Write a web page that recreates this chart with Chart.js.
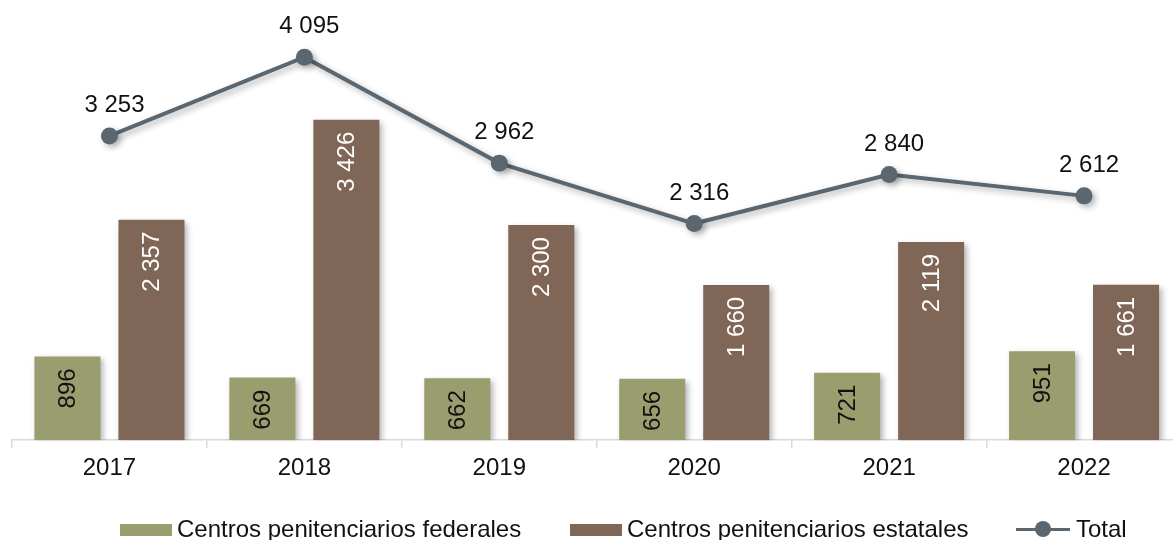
<!DOCTYPE html>
<html>
<head>
<meta charset="utf-8">
<script src="https://cdn.jsdelivr.net/npm/chart.js@4.4.1/dist/chart.umd.min.js"></script>
<style>
  html, body { margin: 0; padding: 0; background: #fff; overflow: hidden; }
  #wrap { position: relative; width: 1173px; height: 540px; overflow: hidden; }
  #box { position: absolute; left: 0; top: 0; width: 1190px; height: 540px; }
  .lg { position: absolute; font: 24px 'Liberation Sans', Arial, sans-serif; color: #111; line-height: 1; white-space: nowrap; }
  .sw { position: absolute; height: 12px; width: 52px; }
</style>
</head>
<body>
<div id="wrap">
  <div id="box"><canvas id="chart-centros"></canvas></div>
  <div class="sw" style="left:120px; top:524px; background:#9a9d6e;"></div>
  <div class="lg" style="left:177px; top:517px;">Centros penitenciarios federales</div>
  <div class="sw" style="left:570px; top:524px; background:#806656;"></div>
  <div class="lg" style="left:627px; top:517px;">Centros penitenciarios estatales</div>
  <div style="position:absolute; left:1016px; top:528px; width:54px; height:3px; background:#5a6770;"></div>
  <div style="position:absolute; left:1035px; top:521px; width:16px; height:16px; border-radius:50%; background:#5a6770;"></div>
  <div class="lg" style="left:1076px; top:517px;">Total</div>
</div>
<script>
'use strict';

const years = ['2017', '2018', '2019', '2020', '2021', '2022'];
const federales = [896, 669, 662, 656, 721, 951];
const estatales = [2357, 3426, 2300, 1660, 2119, 1661];
const totales = [3253, 4095, 2962, 2316, 2840, 2612];

const colors = {
    green: '#9a9d6e',
    brown: '#806656',
    line: '#5a6770',
    axis: '#d9d9d9',
    text: '#111111'
};
const FONT = "'Liberation Sans', Arial, sans-serif";

const fmt = (v) => String(v).replace(/\B(?=(\d{3})+(?!\d))/g, ' ');

// sombra suave como en el original
const shadowPlugin = {
    id: 'shadow',
    beforeDatasetsDraw(chart) {
        const ctx = chart.ctx;
        ctx.save();
        ctx.shadowColor = 'rgba(0, 0, 0, 0.3)';
        ctx.shadowBlur = 6;
        ctx.shadowOffsetX = 3;
        ctx.shadowOffsetY = 3;
    },
    afterDatasetsDraw(chart) {
        chart.ctx.restore();
    }
};

const labelsPlugin = {
    id: 'valueLabels',
    afterDatasetsDraw(chart) {
        const ctx = chart.ctx;
        ctx.save();
        ctx.shadowColor = 'transparent';
        ctx.font = '24px ' + FONT;
        chart.data.datasets.forEach((ds, i) => {
            const meta = chart.getDatasetMeta(i);
            meta.data.forEach((el, j) => {
                const txt = fmt(ds.data[j]);
                if (ds.type === 'line') {
                    ctx.fillStyle = colors.text;
                    ctx.textAlign = 'center';
                    ctx.textBaseline = 'alphabetic';
                    ctx.fillText(txt, el.x + 5, el.y - 24);
                } else {
                    ctx.save();
                    ctx.translate(el.x + 1, el.y + 12);
                    ctx.rotate(-Math.PI / 2);
                    ctx.fillStyle = ds.labelColor;
                    ctx.textAlign = 'right';
                    ctx.textBaseline = 'middle';
                    ctx.fillText(txt, 0, 0);
                    ctx.restore();
                }
            });
        });
        ctx.restore();
    }
};

new Chart(document.getElementById('chart-centros'), {
    type: 'bar',
    data: {
        labels: years,
        datasets: [
            {
                type: 'line',
                label: 'Total',
                data: totales,
                borderColor: colors.line,
                backgroundColor: colors.line,
                borderWidth: 4,
                pointRadius: 8.5,
                pointBackgroundColor: colors.line,
                pointBorderWidth: 0,
                tension: 0,
                order: 0
            },
            {
                label: 'Centros penitenciarios federales',
                data: federales,
                backgroundColor: colors.green,
                labelColor: '#111111',
                categoryPercentage: 0.862,
                barPercentage: 0.786,
                order: 1
            },
            {
                label: 'Centros penitenciarios estatales',
                data: estatales,
                backgroundColor: colors.brown,
                labelColor: '#ffffff',
                categoryPercentage: 0.862,
                barPercentage: 0.786,
                order: 1
            }
        ]
    },
    options: {
        responsive: true,
        maintainAspectRatio: false,
        animation: false,
        layout: { padding: { left: 12, right: 6, top: 0, bottom: 51 } },
        plugins: {
            legend: { display: false },
            tooltip: { enabled: false }
        },
        scales: {
            x: {
                offset: true,
                grid: {
                    offset: true,
                    drawOnChartArea: false,
                    drawTicks: true,
                    tickLength: 8,
                    color: colors.axis,
                    lineWidth: 1.5
                },
                border: { color: colors.axis, width: 1.5 },
                ticks: {
                    color: colors.text,
                    padding: 6,
                    font: { family: FONT, size: 24 }
                }
            },
            y: {
                display: false,
                min: 0,
                max: 4615
            }
        }
    },
    plugins: [shadowPlugin, labelsPlugin]
});
</script>
</body>
</html>
